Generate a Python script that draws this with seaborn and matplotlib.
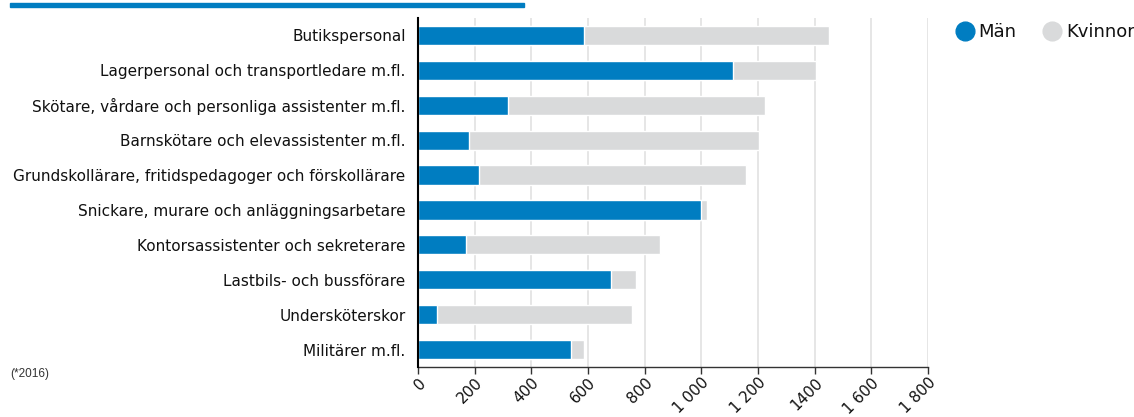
import numpy as np
import pandas as pd
import matplotlib
matplotlib.use("Agg")
import matplotlib.pyplot as plt
import matplotlib.patches as mpatches
from matplotlib.lines import Line2D
import seaborn as sns

yrken = [
    "Butikspersonal",
    "Lagerpersonal och transportledare m.fl.",
    "Skötare, vårdare och personliga assistenter m.fl.",
    "Barnskötare och elevassistenter m.fl.",
    "Grundskollärare, fritidspedagoger och förskollärare",
    "Snickare, murare och anläggningsarbetare",
    "Kontorsassistenter och sekreterare",
    "Lastbils- och bussförare",
    "Undersköterskor",
    "Militärer m.fl.",
]
man = [585, 1113, 319, 181, 216, 1000, 170, 682, 67, 540]
kvinnor = [865, 291, 904, 1021, 940, 21, 685, 88, 689, 47]
xticks = [0, 200, 400, 600, 800, 1000, 1200, 1400, 1600, 1800]
xticklabels = ["0", "200", "400", "600", "800", "1 000", "1 200", "1400", "1 600", "1 800"]

BLA = "#007dc1"
GRA = "#d9dadb"

df = pd.DataFrame({"Yrke": yrken, "Män": man, "Kvinnor": kvinnor})
df["Totalt"] = df["Män"] + df["Kvinnor"]

sns.set_style("white")
plt.rcParams["font.family"] = ["DejaVu Sans"]

W, H = 1134, 417
fig = plt.figure(figsize=(W / 100, H / 100), dpi=100)
ax = fig.add_axes([418 / W, 1 - 367 / H, 510 / W, 349 / H])

# staplad: totalen i grått, män i blått ovanpå
sns.barplot(data=df, x="Totalt", y="Yrke", color=GRA, width=0.55,
            saturation=1, orient="h", ax=ax, zorder=2)
sns.barplot(data=df, x="Män", y="Yrke", color=BLA, width=0.55,
            saturation=1, orient="h", ax=ax, zorder=3)

ax.set_xlim(0, 1800)
ax.set_xticks(xticks)
ax.set_xticklabels(xticklabels, rotation=45, ha="right", rotation_mode="anchor",
                   fontsize=11, color="#111111")
ax.set_xlabel("")
ax.set_ylabel("")
ax.tick_params(axis="y", length=0, pad=9, labelsize=11, labelcolor="#111111")
ax.tick_params(axis="x", length=5, width=1, color="#333333", pad=1, bottom=True)
ax.xaxis.grid(True, color="#e4e4e4", linewidth=1.3, zorder=0)
ax.set_axisbelow(True)

for s in ["top", "right"]:
    ax.spines[s].set_visible(False)
ax.spines["left"].set_color("black")
ax.spines["left"].set_linewidth(1.5)
ax.spines["left"].set_zorder(4)
ax.spines["bottom"].set_color("#333333")
ax.spines["bottom"].set_linewidth(1)

# blå linje överst
fig.add_artist(mpatches.Rectangle((10 / W, 1 - 7 / H), 514 / W, 4 / H,
                                  transform=fig.transFigure, color=BLA))

handles = [Line2D([], [], marker="o", linestyle="", markersize=13.5, color=BLA),
           Line2D([], [], marker="o", linestyle="", markersize=13.5, color=GRA)]
fig.legend(handles, ["Män", "Kvinnor"], loc="center left",
           bbox_to_anchor=(954 / W, 1 - 32 / H), ncol=2, frameon=False,
           fontsize=13, handletextpad=0.15, columnspacing=1.4,
           handlelength=1.2, borderaxespad=0, borderpad=0, labelcolor="#111111")

fig.text(10 / W, 1 - 374 / H, "(*2016)", fontsize=8.5, color="#333333",
         family="Liberation Sans", va="center")

fig.savefig("out.png", dpi=100)
